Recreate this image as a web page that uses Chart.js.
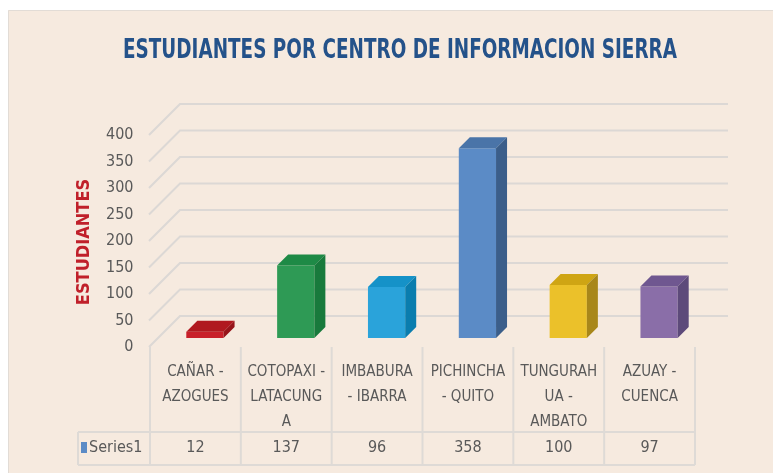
<!DOCTYPE html>
<html>
<head>
<meta charset="utf-8">
<script src="https://cdn.jsdelivr.net/npm/chart.js@4.4.1/dist/chart.umd.min.js"></script>
<style>
  html, body { margin: 0; padding: 0; background: #fff; }
</style>
</head>
<body>
<canvas id="barChart" width="773" height="473"></canvas>
<script>
// data
var chartTitle = 'ESTUDIANTES POR CENTRO DE INFORMACION SIERRA';
var axisTitle = 'ESTUDIANTES';
var categories = [
    ['CAÑAR -', 'AZOGUES'],
    ['COTOPAXI -', 'LATACUNG', 'A'],
    ['IMBABURA', '- IBARRA'],
    ['PICHINCHA', '- QUITO'],
    ['TUNGURAH', 'UA -', 'AMBATO'],
    ['AZUAY -', 'CUENCA']
];
var seriesName = 'Series1';
var students = [12, 137, 96, 358, 100, 97];
var yTicks = [0, 50, 100, 150, 200, 250, 300, 350, 400];

var frontColors = ['#C8202A', '#2E9A55', '#2AA3DA', '#5B8BC6', '#EBC12A', '#8A6EA8'];
var topColors   = ['#B0181F', '#1E8A46', '#1592C8', '#4A74A8', '#CFA514', '#6F5790'];
var sideColors  = ['#96141A', '#187A3C', '#0A7DAE', '#3B5E8A', '#A8871A', '#5D4A7A'];

var FONT = "'Liberation Sans Narrow', 'DejaVu Sans Condensed', 'Roboto', sans-serif";
var DEPTH_X = 11, DEPTH_Y = 11;     // bar depth
var COL_SHIFT = 9.5;                 // table columns sit left of the bars

var barCtx = document.getElementById('barChart').getContext('2d');

var backdrop = {
    id: 'backdrop',
    beforeDraw: function (chart) {
        var ctx = chart.ctx;
        ctx.save();
        ctx.fillStyle = '#fff';
        ctx.fillRect(0, 0, chart.width, chart.height);
        ctx.fillStyle = '#F6EADF';
        ctx.fillRect(8, 10, chart.width - 8, chart.height - 10);
        ctx.strokeStyle = '#E2DCD6';
        ctx.lineWidth = 1;
        ctx.beginPath();
        ctx.moveTo(8.5, chart.height);
        ctx.lineTo(8.5, 10.5);
        ctx.lineTo(chart.width, 10.5);
        ctx.stroke();

        // title, squeezed to the width of the original
        ctx.font = 'bold 27px ' + FONT;
        var w = ctx.measureText(chartTitle).width;
        ctx.translate(400, 51);
        ctx.scale(554 / w, 1);
        ctx.fillStyle = '#24528A';
        ctx.textAlign = 'center';
        ctx.textBaseline = 'middle';
        ctx.fillText(chartTitle, 0, 0);
        ctx.restore();
    }
};

// back wall gridlines + side wall diagonals, then the 3d faces of the bars
var walls = {
    id: 'walls',
    beforeDatasetsDraw: function (chart) {
        var ctx = chart.ctx, y = chart.scales.y;
        ctx.save();
        ctx.strokeStyle = '#DCD8D5';
        ctx.lineWidth = 2;
        yTicks.forEach(function (v) {
            var yb = y.getPixelForValue(v) - 22;
            ctx.beginPath();
            ctx.moveTo(149, yb + 31);
            ctx.lineTo(180, yb);
            ctx.lineTo(728, yb);
            ctx.stroke();
        });
        ctx.restore();
    },
    afterDatasetsDraw: function (chart) {
        var ctx = chart.ctx;
        var meta = chart.getDatasetMeta(0);
        ctx.save();
        meta.data.forEach(function (bar, i) {
            var x0 = bar.x - bar.width / 2, x1 = bar.x + bar.width / 2;
            var yt = bar.y, yb = bar.base;
            ctx.fillStyle = topColors[i];
            ctx.beginPath();
            ctx.moveTo(x0, yt);
            ctx.lineTo(x0 + DEPTH_X, yt - DEPTH_Y);
            ctx.lineTo(x1 + DEPTH_X, yt - DEPTH_Y);
            ctx.lineTo(x1, yt);
            ctx.closePath();
            ctx.fill();
            ctx.fillStyle = sideColors[i];
            ctx.beginPath();
            ctx.moveTo(x1, yt);
            ctx.lineTo(x1 + DEPTH_X, yt - DEPTH_Y);
            ctx.lineTo(x1 + DEPTH_X, yb - DEPTH_Y);
            ctx.lineTo(x1, yb);
            ctx.closePath();
            ctx.fill();
        });
        ctx.restore();
    }
};

// data table below the plot + y axis title
var dataTable = {
    id: 'dataTable',
    afterDraw: function (chart) {
        var ctx = chart.ctx, x = chart.scales.x;
        var half = (x.getPixelForValue(1) - x.getPixelForValue(0)) / 2;
        var left = x.getPixelForValue(0) - half - COL_SHIFT;
        var right = x.getPixelForValue(students.length - 1) + half - COL_SHIFT;
        var rowTop = 432, rowBottom = 465;
        ctx.save();
        ctx.strokeStyle = '#DEDAD6';
        ctx.lineWidth = 2;
        ctx.beginPath();
        for (var i = 0; i <= students.length; i++) {
            var xl = left + i * half * 2;
            ctx.moveTo(xl, 347);
            ctx.lineTo(xl, rowBottom);
        }
        ctx.moveTo(78, rowTop);
        ctx.lineTo(right, rowTop);
        ctx.moveTo(78, rowBottom);
        ctx.lineTo(right, rowBottom);
        ctx.moveTo(78, rowTop);
        ctx.lineTo(78, rowBottom);
        ctx.stroke();

        ctx.fillStyle = '#595959';
        ctx.font = '16px ' + FONT;
        ctx.textAlign = 'center';
        ctx.textBaseline = 'middle';
        students.forEach(function (v, i) {
            ctx.fillText(String(v), x.getPixelForValue(i) - COL_SHIFT, 448);
        });
        ctx.textAlign = 'left';
        ctx.fillText(seriesName, 89, 448);
        ctx.fillStyle = frontColors[3];
        ctx.fillRect(81, 442, 6, 11);

        // y axis title
        ctx.translate(84, 242);
        ctx.rotate(-Math.PI / 2);
        ctx.textAlign = 'center';
        ctx.fillStyle = '#C0202A';
        ctx.font = 'bold 18px ' + FONT;
        ctx.fillText(axisTitle, 0, 0);
        ctx.restore();
    }
};

new Chart(barCtx, {
    type: 'bar',
    data: {
        labels: categories,
        datasets: [{
            label: seriesName,
            data: students,
            backgroundColor: frontColors,
            borderWidth: 0,
            categoryPercentage: 1,
            barPercentage: 0.41
        }]
    },
    options: {
        responsive: false,
        animation: false,
        layout: { padding: { top: 126, right: 68.5, bottom: 0, left: 0 } },
        plugins: {
            legend: { display: false },
            tooltip: { enabled: false },
            title: { display: false }
        },
        scales: {
            x: {
                grid: { display: false, drawTicks: false },
                border: { display: false },
                ticks: {
                    color: '#595959',
                    font: { family: FONT, size: 15, lineHeight: 1.65 },
                    padding: 22,
                    labelOffset: -COL_SHIFT,
                    maxRotation: 0,
                    autoSkip: false
                },
                afterFit: function (scale) { scale.height = 135; }
            },
            y: {
                min: 0,
                max: 400,
                grid: { display: false, drawTicks: false },
                border: { display: false },
                ticks: {
                    stepSize: 50,
                    color: '#595959',
                    font: { family: FONT, size: 16 },
                    padding: 26,
                    labelOffset: 9
                },
                afterFit: function (scale) { scale.width = 159.5; }
            }
        }
    },
    plugins: [backdrop, walls, dataTable]
});
</script>
</body>
</html>
